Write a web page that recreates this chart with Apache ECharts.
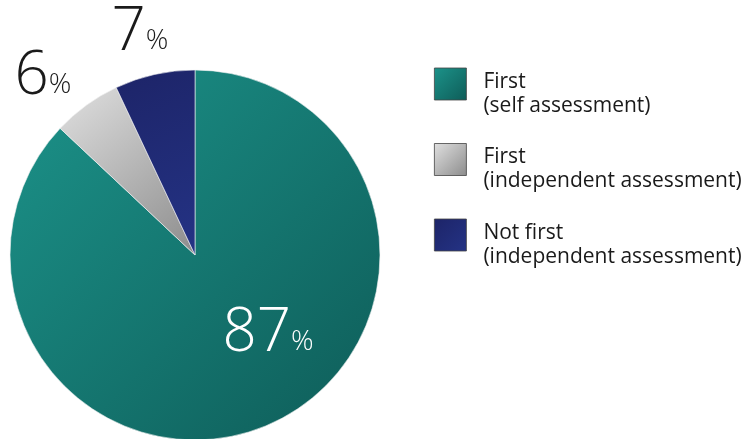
<!DOCTYPE html>
<html lang="en">
<head>
  <meta charset="UTF-8">
  <title>Assessment pie</title>
  <script src="https://cdn.jsdelivr.net/npm/echarts@6/dist/echarts.min.js"></script>
  <style>
    html, body { margin: 0; padding: 0; background: #fff; }
    #container { width: 750px; height: 439px; }
  </style>
</head>
<body>
  <div id="container"></div>
  <script>
    // data
    const categories = ['First\n(self assessment)', 'First\n(independent assessment)', 'Not first\n(independent assessment)'];
    const values = [87, 6, 7];

    const grad = (a, b) => new echarts.graphic.LinearGradient(0, 0, 1, 1, [
      { offset: 0, color: a }, { offset: 1, color: b }
    ]);
    const colors = [
      grad('#1c938a', '#0e5c58'),
      grad('#e0e0e0', '#8c8c8c'),
      grad('#1d2468', '#243385')
    ];
    const labelColors = ['#ffffff', '#1a1a1a', '#1a1a1a'];
    // where each percent label sits (centre of the text)
    const labelSpots = [[268, 334], [43, 77], [140, 33]];

    const chart = echarts.init(document.getElementById('container'), null, { renderer: 'canvas' });
    chart.setOption({
      animation: false,
      legend: {
        orient: 'vertical',
        left: 429,
        top: 50,
        itemWidth: 32,
        itemHeight: 32,
        itemGap: 14,
        icon: 'rect',
        itemStyle: { borderColor: '#444', borderWidth: 0.8 },
        // blank first line pushes the two text lines below the icon centre
        formatter: name => '{s| }\n' + name.split('\n').map(l => '{t|' + l + '}').join('\n'),
        textStyle: {
          padding: [0, 0, 0, 12],
          rich: {
            s: { fontSize: 10, lineHeight: 20 },
            t: { fontFamily: 'Open Sans', fontSize: 21, color: '#1a1a1a', lineHeight: 24 }
          }
        },
        data: categories
      },
      series: [{
        type: 'pie',
        center: [195, 255],
        radius: 185,
        startAngle: 90,
        clockwise: true,
        avoidLabelOverlap: false,
        itemStyle: { borderColor: '#f4f4f4', borderWidth: 0.6 },
        label: {
          show: true,
          position: 'inside',
          formatter: p => '{n|' + p.value + '}{p|%}',
          rich: {
            n: { fontFamily: 'Open Sans', fontWeight: 300, fontSize: 60, lineHeight: 60, verticalAlign: 'bottom' },
            p: { fontFamily: 'Open Sans', fontWeight: 300, fontSize: 28, lineHeight: 60, verticalAlign: 'bottom', padding: [0, 0, 8, 0] }
          }
        },
        labelLine: { show: false },
        labelLayout: p => ({
          x: labelSpots[p.dataIndex][0],
          y: labelSpots[p.dataIndex][1],
          align: 'center',
          verticalAlign: 'middle'
        }),
        emphasis: { disabled: true },
        data: categories.map((name, i) => ({
          name,
          value: values[i],
          itemStyle: { color: colors[i] },
          label: { color: labelColors[i] }
        }))
      }]
    });
  </script>
</body>
</html>
